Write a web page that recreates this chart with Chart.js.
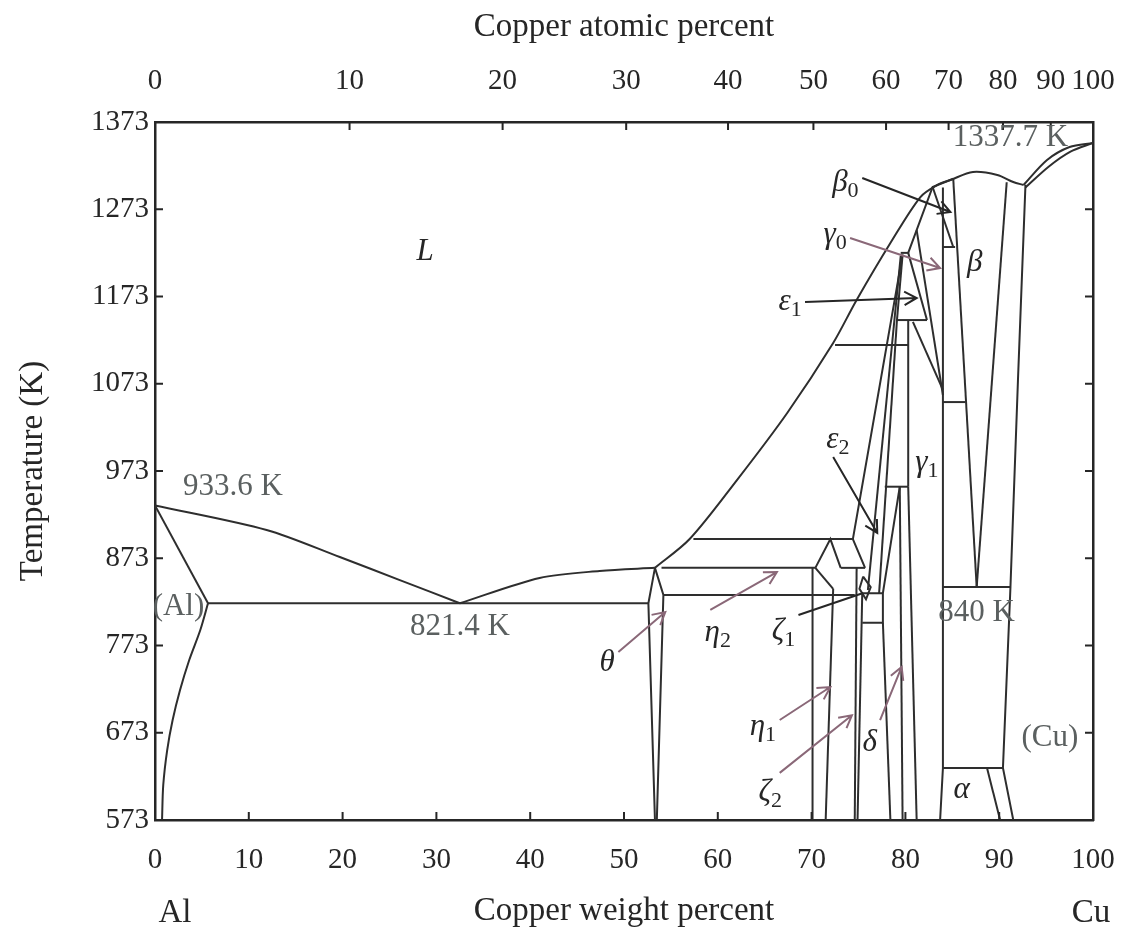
<!DOCTYPE html>
<html>
<head>
<meta charset="utf-8">
<title>Al-Cu phase diagram</title>
<script src="https://cdn.jsdelivr.net/npm/chart.js@4.4.0/dist/chart.umd.min.js"></script>
<style>
  html, body { margin: 0; padding: 0; background: #fff; }
</style>
</head>
<body>
<canvas id="chart" width="1130" height="935"></canvas>
<script>
// tick labels
var weightTicks = [0, 10, 20, 30, 40, 50, 60, 70, 80, 90, 100];
var atomicTicks = [0, 10, 20, 30, 40, 50, 60, 70, 80, 90, 100];
var tempTicks = [573, 673, 773, 873, 973, 1073, 1173, 1273, 1373];

// phase boundaries, [Cu weight %, K]
var alLiquidus = [[0, 933.6], [11.9, 905.4], [19.7, 874.4], [26.1, 848], [32.5, 821.4]];
var alSolidus = [[0, 933.6], [5.65, 821.4]];
var alSolvus = [[5.65, 821.4], [4.83, 790.8], [3.65, 756.4], [2.67, 722], [1.88, 687.6], [1.3, 653.2],
  [0.88, 613.1], [0.75, 573]];
var eutectic = [[5.65, 821.4], [52.6, 821.4]];
var thetaLiquidus = [[32.5, 821.4], [41, 850.4], [47.4, 858.4], [53.3, 862]];
var mainLiquidus = [[53.3, 862], [57.0, 895], [62.0, 962], [67.4, 1039.5], [72.3, 1119.7],
  [74.8, 1169], [78.4, 1234.3], [81.6, 1287], [83.4, 1300.8], [84.8, 1306.5], [87.2, 1315.7],
  [89.8, 1312.3], [91.5, 1304.2], [92.6, 1300.8]];
var cuLiquidus = [[92.6, 1300.8], [95.1, 1329.4], [97.5, 1344.3], [100, 1349]];
var cuSolidus = [[92.8, 1298], [95.3, 1322], [97.6, 1339], [100, 1349]];

var thetaLeft = [[53.3, 862], [52.6, 821.4], [53.3, 573]];
var thetaRight = [[53.3, 862], [54.2, 831], [53.5, 573]];
var iso895 = [[57.4, 895], [74.4, 895]];
var iso862a = [[54.0, 862], [70.4, 862]];
var iso862b = [[73.1, 862], [75.7, 862]];
var iso831 = [[54.2, 831], [74.6, 831]];
var etaTent = [[70.4, 862], [72.0, 895], [73.1, 862]];
var etaDiag = [[70.4, 862], [72.3, 838]];
var eta1Left = [[70.1, 862], [70.1, 573]];
var eta1Right = [[72.3, 838], [71.5, 573]];
var eps2Left = [[79.7, 1221], [74.4, 895], [75.7, 862]];
var eps2Mid = [[79.5, 1219.4], [76.0, 836.6]];
var gamma1Left = [[79.1, 1146], [77.2, 833]];
var gamma1Right = [[80.3, 1146], [80.3, 955]];
var gamma1Base = [[77.8, 955], [80.3, 955]];
var gamma1DownA = [[79.4, 955], [79.7, 573]];
var gamma1DownB = [[80.3, 955], [81.2, 573]];
var deltaLink = [[77.6, 833], [79.4, 955]];
var deltaBox = [[75.4, 833], [77.6, 833], [77.6, 799], [75.4, 799]];
var deltaRight = [[77.6, 799], [78.4, 573]];
var zetaA = [[74.8, 862], [74.6, 573]];
var zetaB = [[75.4, 833], [74.9, 573]];
var zeta1 = [[75.5, 852], [76.3, 840], [75.8, 826], [75.1, 838], [75.5, 852]];
var eps1Top = [[79.5, 1223], [80.3, 1223]];
var eps1Right = [[80.3, 1223], [82.3, 1146]];
var eps1Base = [[79.1, 1146], [82.3, 1146]];
var eps1Left = [[79.7, 1221], [79.1, 1146]];
var iso1117 = [[72.5, 1117.4], [80.3, 1117.4]];
var gammaSolidus = [[80.3, 1223], [82.9, 1298.5], [85.1, 1308]];
var gamma0Left = [[81.2, 1249], [84.0, 1060]];
var gamma0Low = [[80.8, 1144], [84.0, 1066]];
var beta0Diag = [[82.9, 1298.5], [85.1, 1229.7]];
var beta0Base = [[84.0, 1229.7], [85.3, 1229.7]];
var line84 = [[84.0, 1298], [84.0, 632.6], [83.7, 573]];
var iso1052 = [[84.0, 1052], [86.4, 1052]];
var betaLeft = [[85.1, 1308], [87.6, 840]];
var betaRight = [[90.8, 1304], [87.6, 840]];
var iso840 = [[84.0, 840], [91.2, 840]];
var cuSolvus = [[92.8, 1301], [92.0, 1077], [91.2, 840], [90.4, 632.6], [91.5, 573]];
var iso633 = [[84.0, 632.6], [90.4, 632.6]];
var alphaInner = [[88.7, 632.6], [90.1, 573]];

var curved = [alLiquidus, alSolvus, thetaLiquidus, mainLiquidus, cuLiquidus, cuSolidus];
var boundaries = [alLiquidus, alSolidus, alSolvus, eutectic, thetaLiquidus, mainLiquidus, cuLiquidus, cuSolidus,
  thetaLeft, thetaRight, iso895, iso862a, iso862b, iso831, etaTent, etaDiag, eta1Left, eta1Right,
  eps2Left, eps2Mid, gamma1Left, gamma1Right, gamma1Base, gamma1DownA, gamma1DownB, deltaLink,
  deltaBox, deltaRight, zetaA, zetaB, zeta1, eps1Top, eps1Right, eps1Base, eps1Left, iso1117,
  gammaSolidus, gamma0Left, gamma0Low, beta0Diag, beta0Base, line84, iso1052, betaLeft, betaRight,
  iso840, cuSolvus, iso633, alphaInner];

var ink = '#262626';
var grey = '#5b6060';
var mauve = '#8a6878';
var serif = "'Liberation Serif', 'Times New Roman', serif";

// text in the plot, placed in data units
var labels = [
  { t: 'L', x: 28.8, y: 1224, it: true, size: 31, c: ink },
  { t: '933.6 K', x: 8.3, y: 954.7, size: 31, c: grey },
  { t: '821.4 K', x: 32.5, y: 794.2, size: 31, c: grey },
  { t: '(Al)', x: 2.5, y: 817, size: 31, c: grey },
  { t: '840 K', x: 87.6, y: 810.2, size: 31, c: grey },
  { t: '(Cu)', x: 95.4, y: 667, size: 31, c: grey },
  { t: '1337.7 K', x: 91.2, y: 1354.7, size: 31, c: grey },
  { t: 'β', x: 87.4, y: 1211.4, it: true, size: 31, c: ink },
  { t: 'α', x: 86.0, y: 607.4, it: true, size: 31, c: ink },
  { t: 'γ', s: '1', x: 82.3, y: 982.2, it: true, size: 31, c: ink },
  { t: 'β', s: '0', x: 73.6, y: 1303, it: true, size: 31, c: ink },
  { t: 'γ', s: '0', x: 72.5, y: 1243.5, it: true, size: 31, c: ink },
  { t: 'ε', s: '1', x: 67.7, y: 1166.7, it: true, size: 31, c: ink },
  { t: 'ε', s: '2', x: 72.8, y: 1008.5, it: true, size: 31, c: ink },
  { t: 'η', s: '2', x: 60.0, y: 787.3, it: true, size: 31, c: ink },
  { t: 'θ', x: 48.2, y: 753, it: true, size: 31, c: ink },
  { t: 'ζ', s: '1', x: 67.0, y: 788.5, it: true, size: 31, c: ink },
  { t: 'η', s: '1', x: 64.8, y: 679.6, it: true, size: 31, c: ink },
  { t: 'ζ', s: '2', x: 65.6, y: 604, it: true, size: 31, c: ink },
  { t: 'δ', x: 76.2, y: 661.3, it: true, size: 31, c: ink }
];

var arrows = [
  { from: [75.4, 1308.8], to: [84.8, 1269.8], c: ink, head: true },
  { from: [74.1, 1240], to: [83.7, 1205.7], c: mauve, head: true },
  { from: [69.3, 1166.7], to: [81.2, 1171.3], c: ink, head: true },
  { from: [72.3, 989], to: [77.0, 902], c: ink, head: true },
  { from: [59.2, 813.7], to: [66.3, 857.2], c: mauve, head: true },
  { from: [49.4, 765.6], to: [54.4, 811.4], c: mauve, head: true },
  { from: [68.6, 808], to: [75.5, 833.2], c: ink, head: false },
  { from: [66.6, 687.6], to: [72.0, 725.4], c: mauve, head: true },
  { from: [66.6, 627], to: [74.3, 693], c: mauve, head: true },
  { from: [77.3, 687.6], to: [79.6, 748.4], c: mauve, head: true }
];

function atomicToWeight(a) {
  var cu = a * 63.546, al = (100 - a) * 26.982;
  return 100 * cu / (cu + al);
}

var innerTicks = {
  id: 'innerTicks',
  afterDatasetsDraw: function(chart) {
    var c = chart.ctx, a = chart.chartArea, s = chart.scales, len = 8;
    c.save();
    c.strokeStyle = ink;
    c.lineWidth = 2;
    c.beginPath();
    s.x.ticks.forEach(function(t) {
      var px = s.x.getPixelForValue(t.value);
      c.moveTo(px, a.bottom); c.lineTo(px, a.bottom - len);
    });
    s.x2.ticks.forEach(function(t) {
      var px = s.x2.getPixelForValue(t.value);
      c.moveTo(px, a.top); c.lineTo(px, a.top + len);
    });
    s.y.ticks.forEach(function(t) {
      var py = s.y.getPixelForValue(t.value);
      c.moveTo(a.left, py); c.lineTo(a.left + len, py);
      c.moveTo(a.right, py); c.lineTo(a.right - len, py);
    });
    c.stroke();
    c.restore();
  }
};

var notes = {
  id: 'notes',
  afterDatasetsDraw: function(chart) {
    var c = chart.ctx, sx = chart.scales.x, sy = chart.scales.y;
    c.save();
    arrows.forEach(function(ar) {
      var x1 = sx.getPixelForValue(ar.from[0]), y1 = sy.getPixelForValue(ar.from[1]);
      var x2 = sx.getPixelForValue(ar.to[0]), y2 = sy.getPixelForValue(ar.to[1]);
      c.strokeStyle = ar.c;
      c.lineWidth = 2;
      c.beginPath();
      c.moveTo(x1, y1); c.lineTo(x2, y2);
      if (ar.head) {
        var ang = Math.atan2(y2 - y1, x2 - x1), h = 14, sp = 0.5;
        c.moveTo(x2 - h * Math.cos(ang - sp), y2 - h * Math.sin(ang - sp));
        c.lineTo(x2, y2);
        c.lineTo(x2 - h * Math.cos(ang + sp), y2 - h * Math.sin(ang + sp));
      }
      c.stroke();
    });
    c.textBaseline = 'middle';
    labels.forEach(function(l) {
      var px = sx.getPixelForValue(l.x), py = sy.getPixelForValue(l.y);
      var mainFont = (l.it ? 'italic ' : '') + l.size + 'px ' + serif;
      var subFont = Math.round(l.size * 0.72) + 'px ' + serif;
      c.font = mainFont;
      var w1 = c.measureText(l.t).width, w2 = 0;
      if (l.s) { c.font = subFont; w2 = c.measureText(l.s).width; }
      var x0 = px - (w1 + w2) / 2;
      c.fillStyle = l.c;
      c.textAlign = 'left';
      c.font = mainFont;
      c.fillText(l.t, x0, py);
      if (l.s) { c.font = subFont; c.fillText(l.s, x0 + w1, py + 8); }
    });
    // element names under the bottom axis
    c.fillStyle = ink;
    c.font = '33px ' + serif;
    c.textAlign = 'center';
    c.fillText('Al', sx.getPixelForValue(0) + 20, 913);
    c.fillText('Cu', sx.getPixelForValue(100) - 2, 913);
    c.restore();
  }
};

var datasets = boundaries.map(function(arr) {
  return {
    data: arr.map(function(p) { return { x: p[0], y: p[1] }; }),
    showLine: true,
    fill: false,
    borderColor: '#2e2e2e',
    borderWidth: 2,
    pointRadius: 0,
    tension: curved.indexOf(arr) >= 0 ? 0.3 : 0
  };
});

var tickFont = { family: serif, size: 29 };
var titleFont = { family: serif, size: 33 };
var edge = { display: true, color: ink, width: 2.5 };
var noGrid = { display: true, drawOnChartArea: false, drawTicks: false };

function fixHeight(h) {
  return function(s) { s.height = h; s.paddingLeft = 0; s.paddingRight = 0; };
}

var canvas = document.getElementById('chart').getContext('2d');
window.diagram = new Chart(canvas, {
  type: 'scatter',
  data: { datasets: datasets },
  options: {
    responsive: false,
    animation: false,
    devicePixelRatio: 1,
    layout: { padding: 0 },
    plugins: { legend: { display: false }, tooltip: { enabled: false } },
    scales: {
      x: {
        type: 'linear', position: 'bottom', min: 0, max: 100,
        afterBuildTicks: function(s) { s.ticks = weightTicks.map(function(v) { return { value: v }; }); },
        afterFit: fixHeight(115),
        grid: noGrid, border: edge,
        ticks: { font: tickFont, color: ink, padding: 23, maxRotation: 0, autoSkip: false },
        title: { display: true, text: 'Copper weight percent', font: titleFont, color: ink, padding: { top: 0, bottom: 4 } }
      },
      x2: {
        type: 'linear', position: 'top', min: 0, max: 100,
        afterBuildTicks: function(s) { s.ticks = atomicTicks.map(function(a) { return { value: atomicToWeight(a) }; }); },
        afterFit: fixHeight(122),
        grid: noGrid, border: edge,
        ticks: {
          font: tickFont, color: ink, padding: 23, maxRotation: 0, autoSkip: false,
          callback: function(v, i) { return String(atomicTicks[i]); }
        },
        title: { display: true, text: 'Copper atomic percent', font: titleFont, color: ink, padding: { top: 8, bottom: 0 } }
      },
      y: {
        type: 'linear', position: 'left', min: 573, max: 1373,
        afterBuildTicks: function(s) { s.ticks = tempTicks.map(function(v) { return { value: v }; }); },
        afterFit: function(s) { s.width = 155; },
        grid: noGrid, border: edge,
        ticks: { font: tickFont, color: ink, padding: 6, autoSkip: false, callback: function(v) { return String(v); } },
        title: { display: true, text: 'Temperature (K)', font: titleFont, color: ink, padding: { top: 14, bottom: 0 } }
      },
      y2: {
        type: 'linear', position: 'right', min: 573, max: 1373,
        afterFit: function(s) { s.width = 37; },
        grid: noGrid, border: edge,
        ticks: { display: false }
      }
    }
  },
  plugins: [innerTicks, notes]
});
</script>
</body>
</html>
